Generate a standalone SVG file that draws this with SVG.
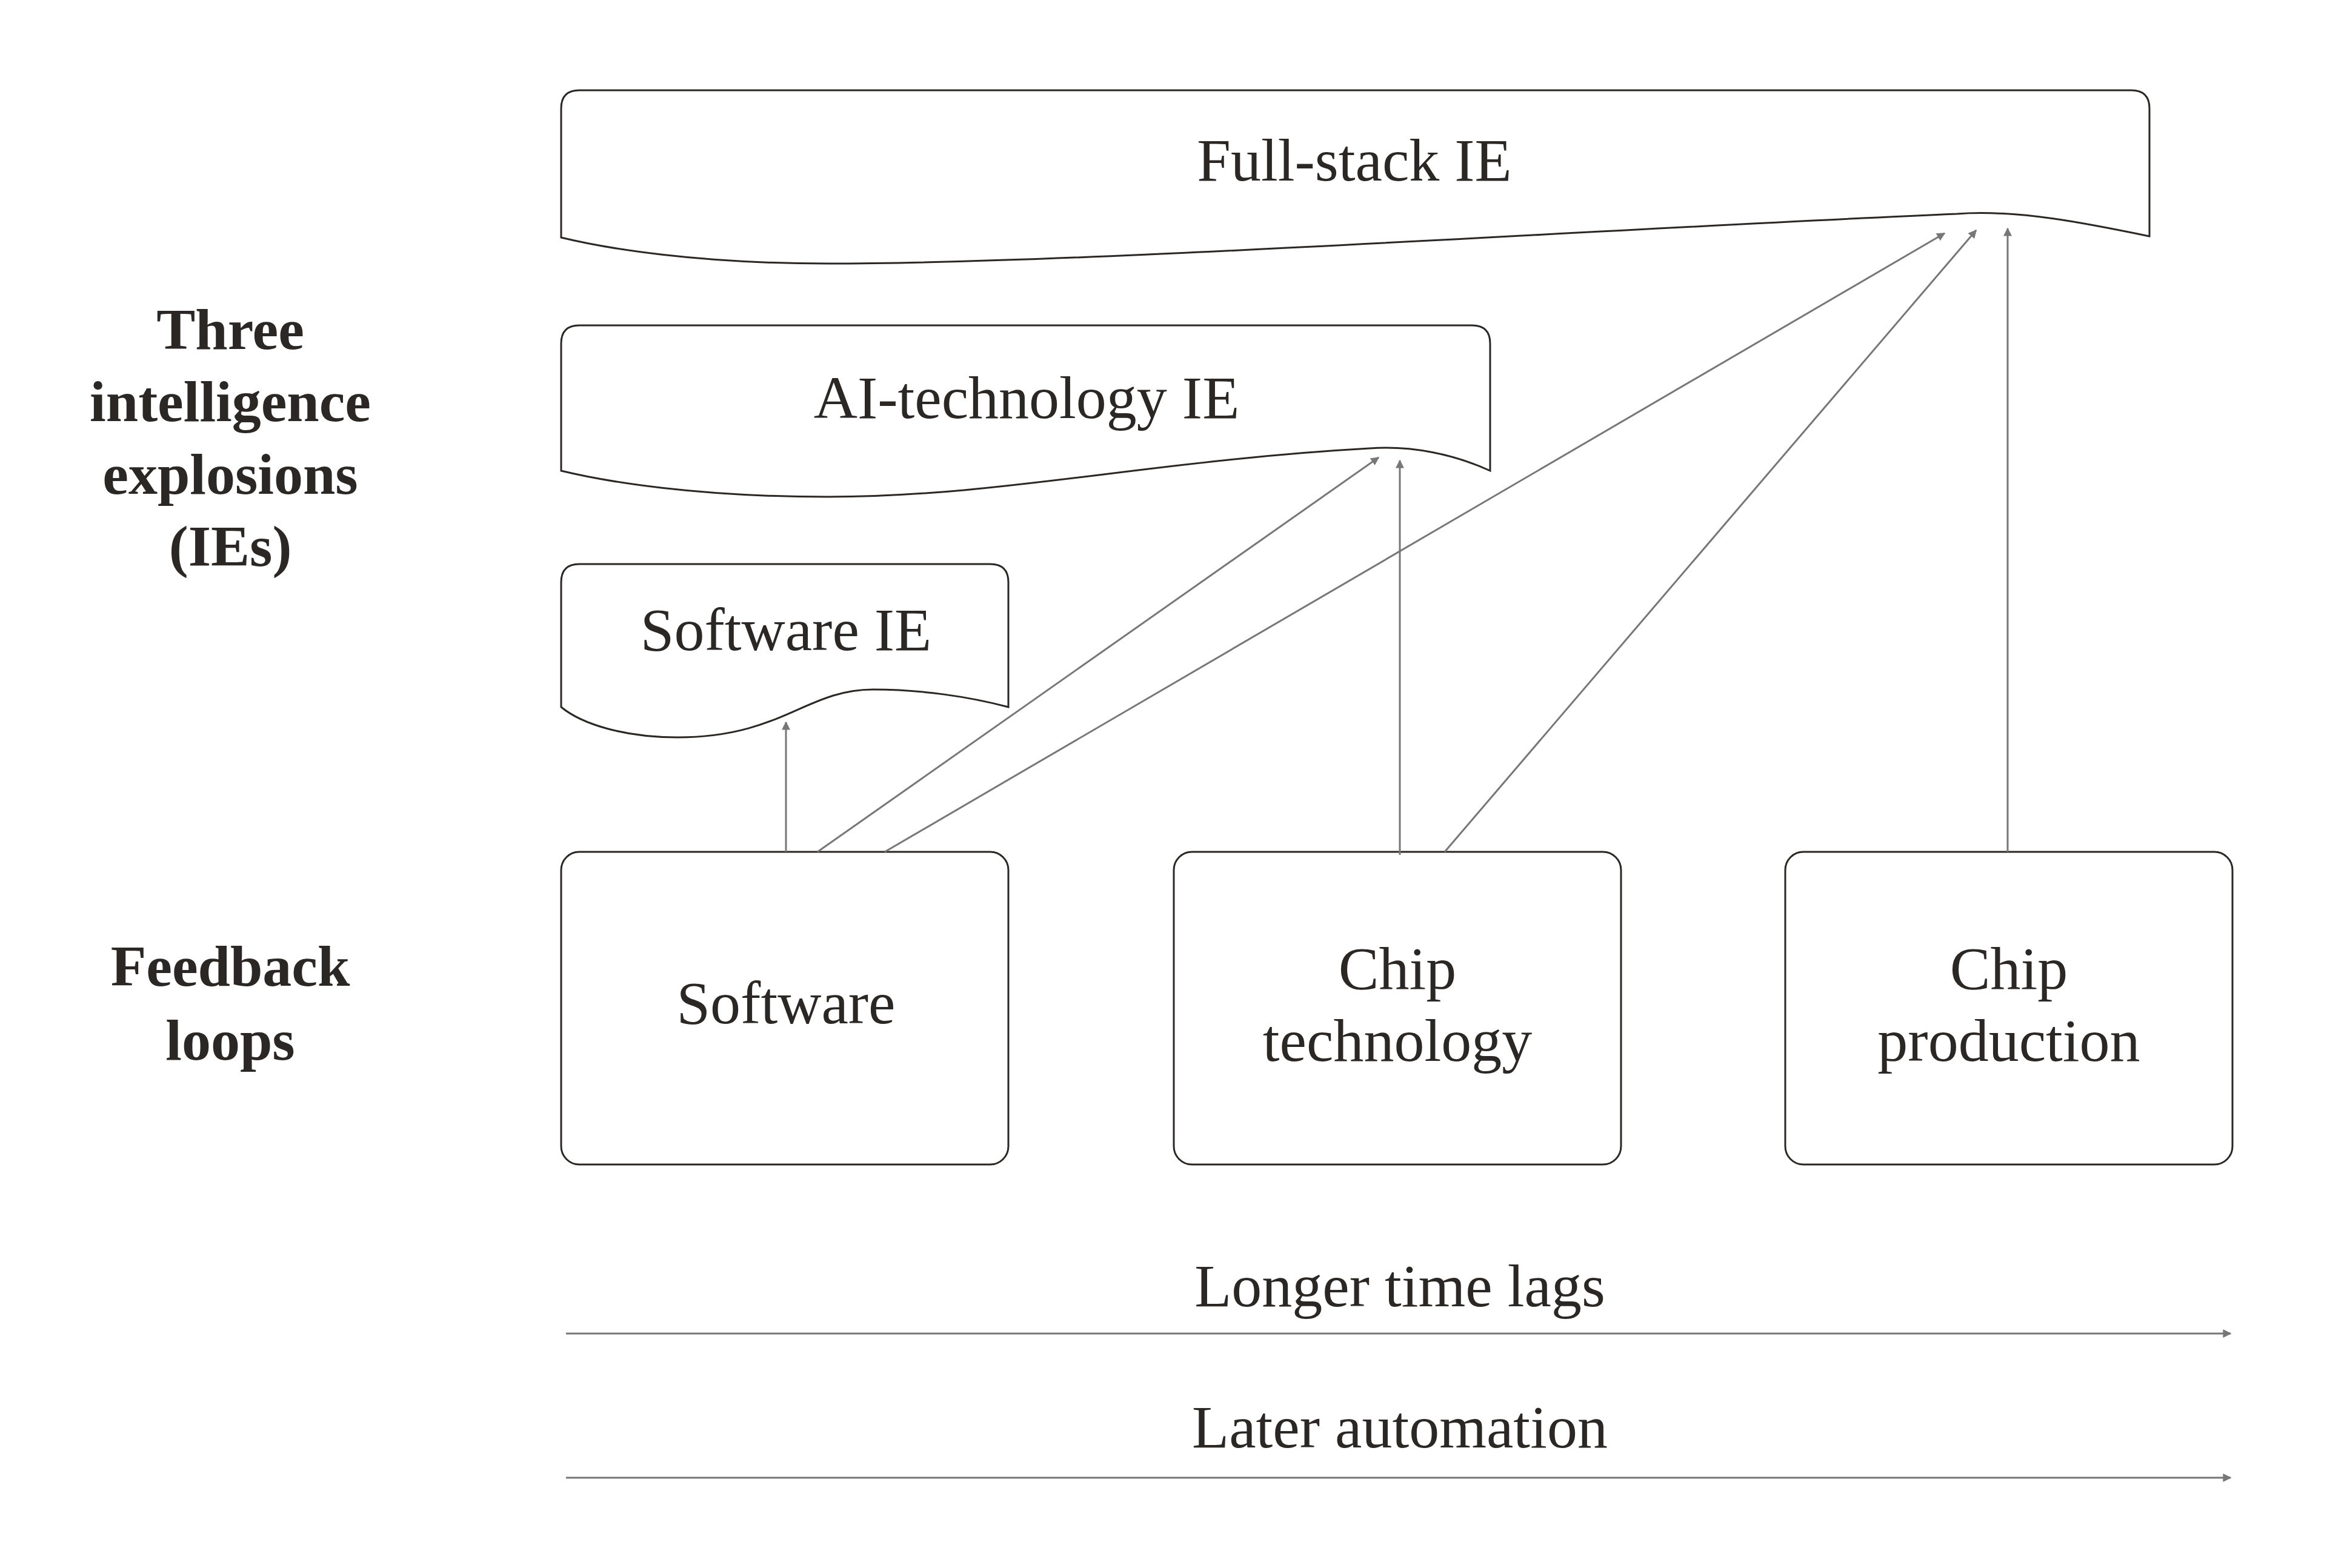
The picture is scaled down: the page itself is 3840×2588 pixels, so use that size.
<svg xmlns="http://www.w3.org/2000/svg" width="3840" height="2588" viewBox="0 0 3840 2588">
<style>
.sh{fill:#fff;stroke:#2b2724;stroke-width:3}
.t{font-family:"Liberation Serif",serif;font-size:100px;fill:#2b2724;text-anchor:middle}
.b{font-weight:bold;font-size:96px}
.c{stroke:#777;stroke-width:3;fill:none;marker-end:url(#a)}
</style>
<defs><marker id="a" viewBox="0 0 10 10" refX="9" refY="5" markerWidth="14" markerHeight="14" markerUnits="userSpaceOnUse" orient="auto"><path d="M0,0L10,5L0,10z" fill="#777"/></marker>
<marker id="a2" viewBox="0 0 10 10" refX="9" refY="5" markerWidth="40" markerHeight="40" markerUnits="userSpaceOnUse" orient="auto"><path d="M0,1L10,5L0,9z" fill="#777"/></marker></defs>
<rect width="3840" height="2588" fill="#fff"/>
<g id="labels">
<text class="t b" x="380" y="576">Three</text>
<text class="t b" x="380" y="695">intelligence</text>
<text class="t b" x="380" y="815">explosions</text>
<text class="t b" x="380" y="934">(IEs)</text>
<text class="t b" x="380" y="1627">Feedback</text>
<text class="t b" x="380" y="1749">loops</text>
</g>
<g id="fullstack">
<path class="sh" d="M956,149H3517Q3547,149 3547,179V390C3450,370 3330,345 3229,353C2600,380 1800,435 1366,435C1150,435 1000,410 926,392V179Q926,149 956,149Z"/>
<text class="t" x="2235" y="298">Full-stack IE</text>
</g>
<g id="aitech">
<path class="sh" d="M956,537H2429Q2459,537 2459,567V777C2400,750 2330,735 2260,740C1900,760 1650,820 1366,820C1150,820 1000,795 926,777V567Q926,537 956,537Z"/>
<text class="t" x="1694" y="690">AI-technology IE</text>
</g>
<g id="softie">
<path class="sh" d="M956,931H1634Q1664,931 1664,961V1167C1600,1150 1520,1138 1441,1138C1330,1138 1290,1217 1118,1217C1030,1217 960,1195 926,1167V961Q926,931 956,931Z"/>
<text class="t" x="1297" y="1073">Software IE</text>
</g>
<g id="software"><rect class="sh" x="926" y="1406" width="738" height="516" rx="30"/><text class="t" x="1297" y="1689">Software</text></g>
<g id="chiptech"><rect class="sh" x="1937" y="1406" width="738" height="516" rx="30"/><text class="t" x="2306" y="1632">Chip</text><text class="t" x="2306" y="1751">technology</text></g>
<g id="chipprod"><rect class="sh" x="2946" y="1406" width="738" height="516" rx="30"/><text class="t" x="3315" y="1632">Chip</text><text class="t" x="3315" y="1751">production</text></g>
<g id="connectors">
<line class="c" marker-end="url(#a2)" x1="1297" y1="1406" x2="1297" y2="1192"/>
<line class="c" marker-end="url(#a2)" x1="1349" y1="1406" x2="2275" y2="755"/>
<line class="c" marker-end="url(#a2)" x1="1460" y1="1406" x2="3209" y2="385"/>
<line class="c" marker-end="url(#a2)" x1="2310" y1="1411" x2="2310" y2="760"/>
<line class="c" marker-end="url(#a2)" x1="2384" y1="1406" x2="3261" y2="380"/>
<line class="c" marker-end="url(#a2)" x1="3313" y1="1406" x2="3313" y2="377"/>
<line class="c" marker-end="url(#a2)" x1="934" y1="2201" x2="3681" y2="2201"/>
<line class="c" marker-end="url(#a2)" x1="934" y1="2439" x2="3681" y2="2439"/>
</g>
<g id="axes">
<text class="t" x="2310" y="2156">Longer time lags</text>
<text class="t" x="2310" y="2389">Later automation</text>
</g>
</svg>
